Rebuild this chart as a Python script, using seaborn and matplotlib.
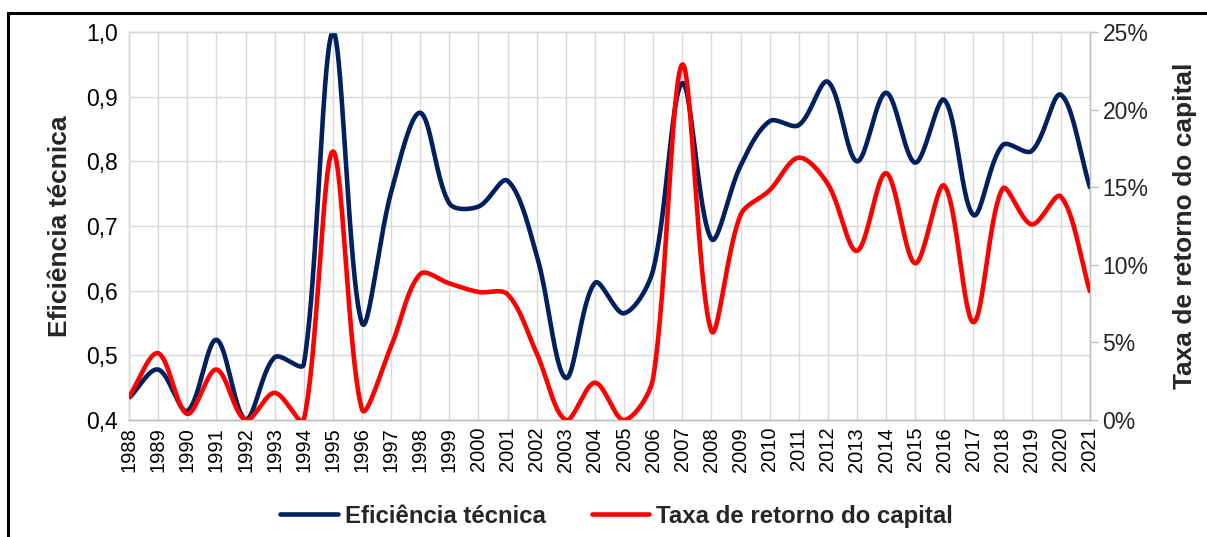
import numpy as np
import pandas as pd
import matplotlib
matplotlib.use("Agg")
import matplotlib.pyplot as plt
import seaborn as sns
from matplotlib.patches import Rectangle
from matplotlib.ticker import FuncFormatter
from matplotlib.lines import Line2D

years = list(range(1988, 2022))
eficiencia = [0.434, 0.478, 0.414, 0.524, 0.401, 0.497, 0.486, 1.000, 0.550, 0.752,
              0.875, 0.735, 0.730, 0.770, 0.655, 0.465, 0.612, 0.565, 0.632, 0.921,
              0.680, 0.793, 0.862, 0.856, 0.923, 0.800, 0.906, 0.798, 0.895, 0.717,
              0.825, 0.816, 0.903, 0.760]
taxa = [1.5, 4.3, 0.4, 3.25, 0.0, 1.75, 0.0, 17.3, 0.7, 4.75,
        9.4, 8.8, 8.25, 8.1, 4.3, 0.0, 2.4, 0.0, 2.7, 22.9,
        5.75, 13.2, 14.8, 16.9, 15.2, 10.9, 15.9, 10.1, 15.1, 6.3,
        14.9, 12.6, 14.4, 8.3]

BLUE = "#002060"
RED = "#ff0000"


def smooth(x, y, sx, sy, n=40):
    # spreadsheet-like smoothed line: Catmull-Rom tangents, with the two
    # control arms shared out by neighbouring segment lengths (screen units)
    P = np.column_stack([np.asarray(x, float) * sx, np.asarray(y, float) * sy])
    m = len(P)
    arm_in = np.zeros_like(P)
    arm_out = np.zeros_like(P)
    for i in range(m):
        lo, hi = max(i - 1, 0), min(i + 1, m - 1)
        T = (P[hi] - P[lo]) / (hi - lo)
        s_in = np.linalg.norm(P[i] - P[lo]) if i > 0 else np.linalg.norm(P[hi] - P[i])
        s_out = np.linalg.norm(P[hi] - P[i]) if i < m - 1 else s_in
        f_in = min(2 * s_in / (s_in + s_out), 1.4)
        f_out = min(2 * s_out / (s_in + s_out), 1.4)
        arm_in[i] = T / 3 * f_in
        arm_out[i] = T / 3 * f_out
    out = []
    for i in range(m - 1):
        a, b = P[i], P[i + 1]
        c1 = a + arm_out[i]
        c2 = b - arm_in[i + 1]
        t = np.linspace(0, 1, n, endpoint=False)[:, None]
        out.append((1 - t) ** 3 * a + 3 * (1 - t) ** 2 * t * c1 + 3 * (1 - t) * t ** 2 * c2 + t ** 3 * b)
    out.append(P[-1:])
    out = np.vstack(out)
    return out[:, 0] / sx, out[:, 1] / sy


sns.set_style("white")
plt.rcParams["font.family"] = ["Liberation Sans", "DejaVu Sans"]

fig = plt.figure(figsize=(12.07, 5.37), dpi=100)
ax = fig.add_axes([0.1069, 0.2179, 0.7961, 0.7225])
ax2 = ax.twinx()

# screen scale: ~29 px per year, ~647 px per unit (left), ~15.5 px per % (right)
bx, by = smooth(years, eficiencia, 29.1, 647.0)
rx, ry = smooth(years, taxa, 29.1, 15.5)
df_b = pd.DataFrame({"ano": bx, "valor": by})
df_r = pd.DataFrame({"ano": rx, "valor": ry})

sns.lineplot(data=df_b, x="ano", y="valor", ax=ax, color=BLUE, linewidth=3.3,
             sort=False, estimator=None, zorder=3)
sns.lineplot(data=df_r, x="ano", y="valor", ax=ax2, color=RED, linewidth=3.3,
             sort=False, estimator=None, zorder=3)

ax.set_xlim(years[0], years[-1])
ax.set_ylim(0.4, 1.0)
ax2.set_ylim(0, 25)
ax.set_xticks(years)
ax.set_xticklabels([str(y) for y in years], rotation=90)
ax.set_yticks(np.arange(0.4, 1.01, 0.1))
ax.yaxis.set_major_formatter(FuncFormatter(lambda v, p: f"{v:.1f}".replace(".", ",")))
ax2.set_yticks(range(0, 26, 5))
ax2.yaxis.set_major_formatter(FuncFormatter(lambda v, p: f"{int(round(v))}%"))

ax.grid(True, color="#d9d9d9", linewidth=1)
ax.set_axisbelow(True)
ax.tick_params(axis="x", length=0, labelsize=14.5, colors="#000000", pad=5)
ax.tick_params(axis="y", length=0, labelsize=16.5, colors="#000000", pad=8)
ax2.tick_params(axis="y", length=6, width=1, color="#bfbfbf", labelsize=16.5, pad=3)

for a in (ax, ax2):
    for s in a.spines.values():
        s.set_color("#d9d9d9")
        s.set_linewidth(1)
ax.spines["bottom"].set_color("#bfbfbf")
ax2.spines["bottom"].set_color("#bfbfbf")
ax2.spines["right"].set_color("#bfbfbf")

ax.set_xlabel("")
ax.set_ylabel("Eficiência técnica", fontsize=19, fontweight="bold", labelpad=10)
ax2.set_ylabel("Taxa de retorno do capital", fontsize=19, fontweight="bold", labelpad=18)

handles = [Line2D([], [], color=BLUE, linewidth=3.3),
           Line2D([], [], color=RED, linewidth=3.3)]
leg = fig.legend(handles, ["Eficiência técnica", "Taxa de retorno do capital"],
                 loc="center", bbox_to_anchor=(0.511, 0.039), ncol=2, frameon=False,
                 prop={"size": 17.3, "weight": "bold"}, handlelength=2.4,
                 handletextpad=0.3, columnspacing=1.9)

fig.patches.append(Rectangle((0.007, -0.02), 1.05, 0.996, transform=fig.transFigure,
                             fill=False, edgecolor="black", linewidth=2.2, clip_on=False))

fig.savefig("out.png", dpi=100)
